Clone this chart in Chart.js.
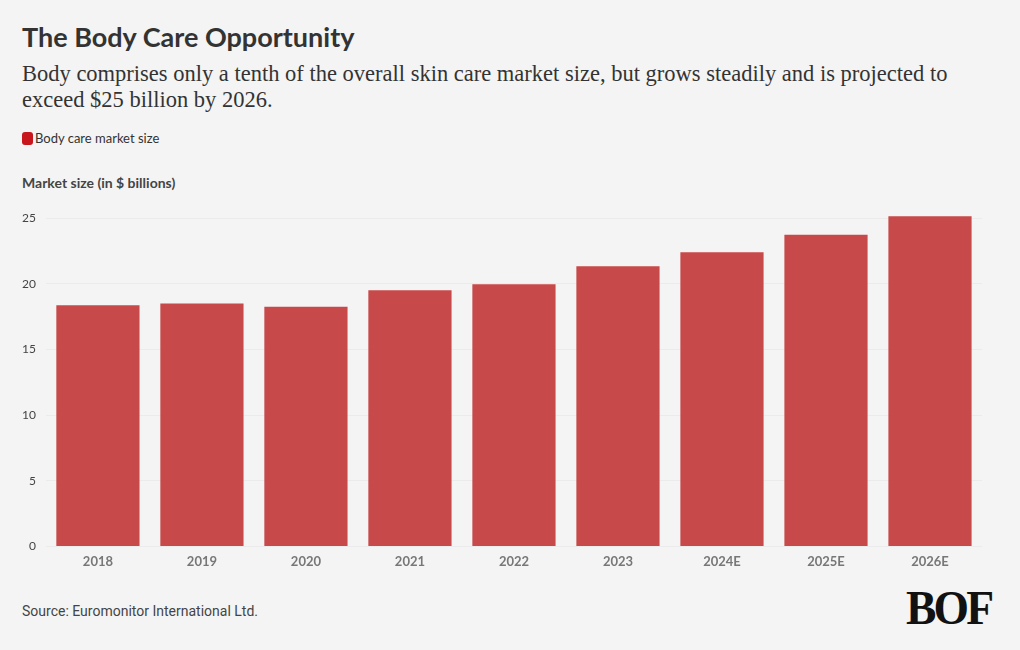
<!DOCTYPE html>
<html>
<head>
<meta charset="utf-8">
<script src="https://cdn.jsdelivr.net/npm/chart.js@4.4.1/dist/chart.umd.min.js"></script>
<style>
  html, body { margin: 0; padding: 0; background: #f4f4f4; }
  body { width: 1020px; height: 650px; position: relative; overflow: hidden; font-family: Lato, "Noto Sans", sans-serif; }
  #title { position: absolute; left: 22px; top: 20px; font: 700 27px Lato, sans-serif; color: #333; }
  #subtitle { position: absolute; left: 22px; top: 61px; width: 952px; font: 22.5px "Liberation Serif", "DejaVu Serif", serif; line-height: 26px; color: #333; }
  #legend { position: absolute; left: 22px; top: 130px; font: 13px Lato, sans-serif; color: #333; display: flex; align-items: center; }
  #legend .sw { width: 11px; height: 13px; border-radius: 3px; background: #c8161d; margin-right: 2px; display: inline-block; }
  #ytitle { position: absolute; left: 22px; top: 174px; font: 700 14px Lato, sans-serif; color: #444; }
  #source { position: absolute; left: 22px; top: 603px; font: 14px Roboto, sans-serif; color: #444; }
  #logo { position: absolute; left: 906px; top: 580px; font: 700 48px "Liberation Serif", serif; color: #111; letter-spacing: -3px; transform: scaleX(0.95); transform-origin: left; }
  #wrap { position: absolute; left: 0; top: 0; width: 1020px; height: 650px; }
</style>
</head>
<body>
<div id="title">The Body Care Opportunity</div>
<div id="subtitle">Body comprises only a tenth of the overall skin care market size, but grows steadily and is projected to exceed $25 billion by 2026.</div>
<div id="legend"><span class="sw"></span><span id="legendText"></span></div>
<div id="ytitle">Market size (in $ billions)</div>
<div id="source">Source: Euromonitor International Ltd.</div>
<div id="logo">BOF</div>
<div id="wrap"><canvas id="c"></canvas></div>
<script>
const categories = ["2018", "2019", "2020", "2021", "2022", "2023", "2024E", "2025E", "2026E"];
const seriesName = "Body care market size";
const marketSize = [18.37, 18.5, 18.25, 19.5, 19.97, 21.34, 22.4, 23.74, 25.15];
const yTicks = [0, 5, 10, 15, 20, 25];

document.getElementById('legendText').textContent = seriesName;

new Chart(document.getElementById('c'), {
  type: 'bar',
  data: {
    labels: categories,
    datasets: [{
      label: seriesName,
      data: marketSize,
      backgroundColor: '#c84949',
      borderWidth: 0,
      barPercentage: 0.8,
      categoryPercentage: 1.0
    }]
  },
  options: {
    responsive: true,
    maintainAspectRatio: false,
    animation: false,
    layout: { padding: { left: 12, right: 38, top: 205, bottom: 80 } },
    plugins: { legend: { display: false }, tooltip: { enabled: false } },
    scales: {
      x: {
        grid: { display: false },
        border: { display: false },
        ticks: { color: '#777', font: { family: 'Lato', size: 13, weight: 'bold' }, padding: 0 }
      },
      y: {
        min: 0, max: 26,
        afterBuildTicks: (s) => { s.ticks = yTicks.map(v => ({ value: v })); },
        grid: { color: '#ebebeb', drawTicks: false },
        border: { display: false },
        ticks: { color: '#444', font: { family: 'Lato', size: 12 }, padding: 10 }
      }
    }
  }
});
</script>
</body>
</html>
